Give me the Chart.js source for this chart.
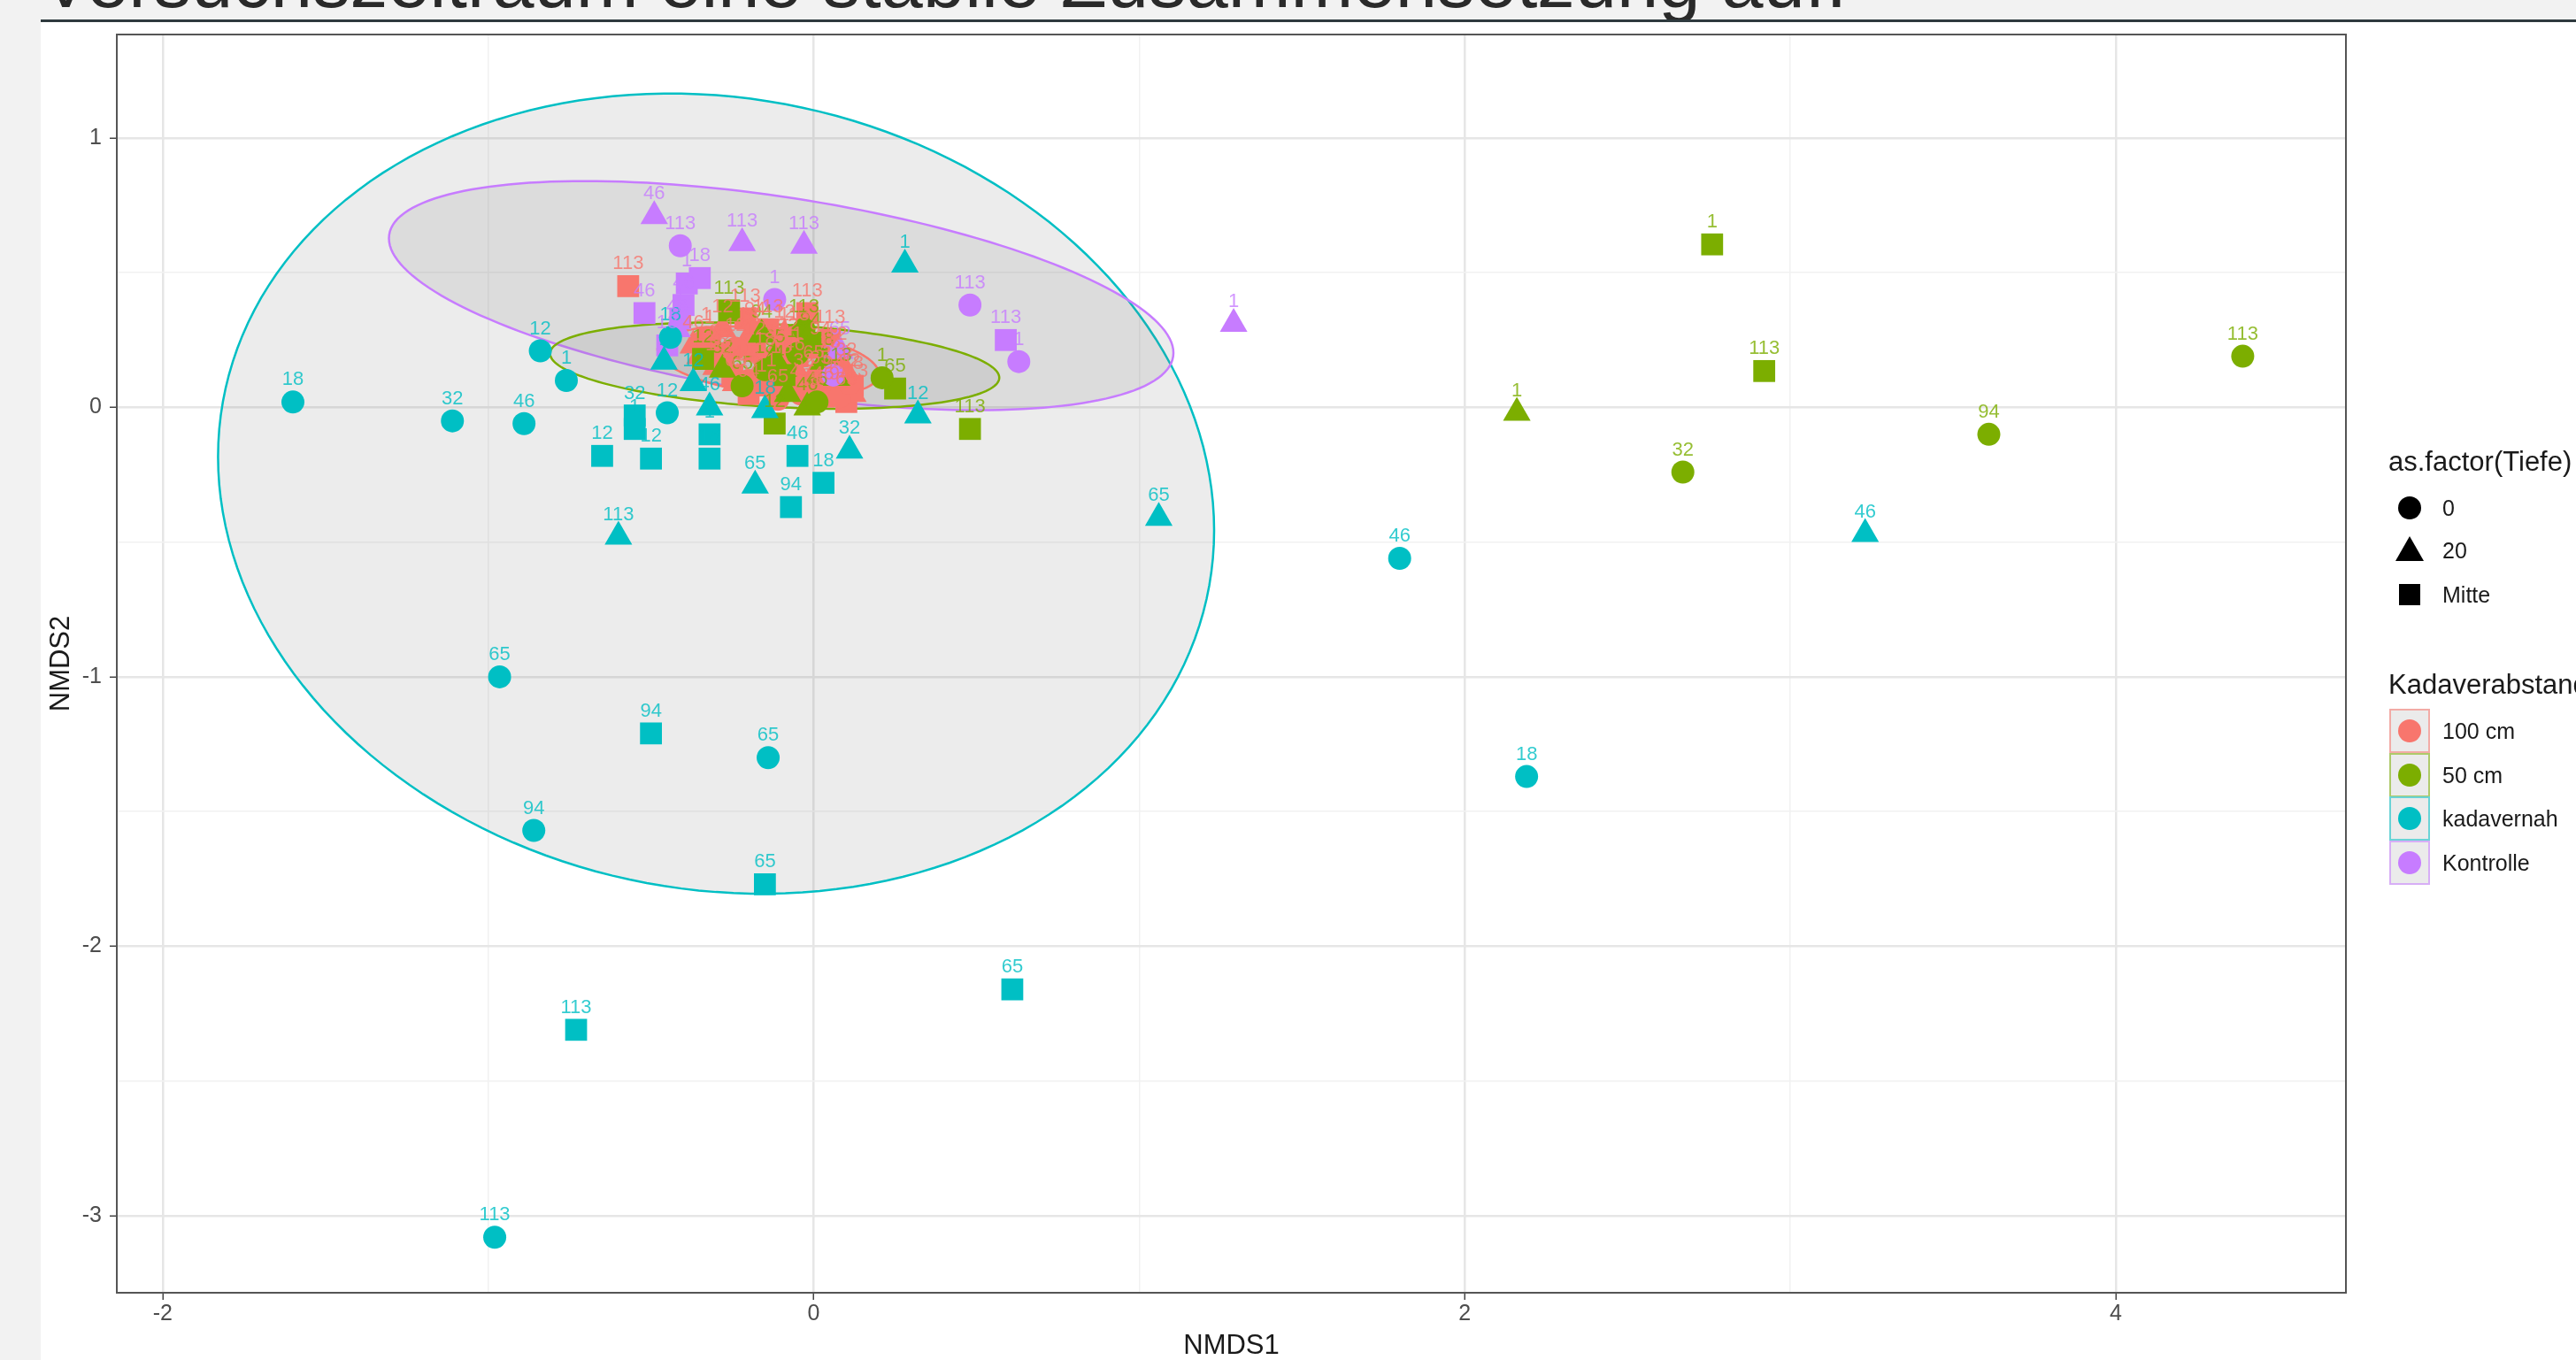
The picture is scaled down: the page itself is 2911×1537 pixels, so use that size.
<!DOCTYPE html>
<html>
<head>
<meta charset="utf-8">
<script src="https://cdn.jsdelivr.net/npm/chart.js@4.4.1/dist/chart.umd.min.js"></script>
<style>
  body { margin: 0; width: 2911px; height: 1537px; overflow: hidden; position: relative; background: #f2f2f2; font-family: "Liberation Sans", Arial, sans-serif; }
  #headline { position: absolute; left: 46px; top: -63px; font-size: 85px; line-height: 84px; color: #2a2a2a; white-space: nowrap; }
  #rule { position: absolute; left: 46px; top: 22px; right: 0; height: 3px; background: #2e3a3e; }
  #sheet { position: absolute; left: 46px; top: 25px; width: 2865px; height: 1512px; background: #fff; }
  #nmds { display: block; position: absolute; left: 0; top: -4px; }
  .lg { position: absolute; white-space: nowrap; color: #1a1a1a; }
  .lg-title { font-size: 31px; height: 36px; line-height: 36px; }
  .lg-text { font-size: 25px; height: 30px; line-height: 30px; }
  .mk { position: absolute; }
</style>
</head>
<body>
<div id="headline">Versuchszeitraum eine stabile Zusammensetzung auf.</div>
<div id="rule"></div>
<div id="sheet"><canvas id="nmds" width="2865" height="1516"></canvas></div>
<div id="legend"></div>

<script>
// Gruppen und Tiefen
const groups = ['100 cm', '50 cm', 'kadavernah', 'Kontrolle'];
const depths = ['0', '20', 'Mitte'];
const groupColors = ['#F8766D', '#7CAE00', '#00BFC4', '#C77CFF'];

// NMDS scores [NMDS1, NMDS2, Probe]
const cm100_0 = [[-0.33, 0.26, '1'], [-0.24, 0.22, '12'], [-0.15, 0.17, '18'], [-0.08, 0.22, '32'], [-0.04, 0.05, '46'],
                 [0.02, 0.10, '65'], [0.08, 0.04, '94'], [0.11, 0.09, '12'], [-0.20, 0.10, '46'], [-0.11, 0.03, '65'],
                 [-0.28, 0.18, '32'], [-0.18, 0.28, '94'], [-0.06, 0.26, '113'], [0.05, 0.16, '18'], [-0.13, 0.09, '1']];
const cm100_20 = [[-0.35, 0.19, '1'], [-0.28, 0.29, '12'], [-0.20, 0.26, '18'], [-0.12, 0.20, '32'], [-0.06, 0.15, '46'],
                  [0.00, 0.12, '65'], [0.06, 0.08, '94'], [0.12, 0.05, '113'], [-0.16, 0.07, '1'], [-0.30, 0.15, '18'],
                  [-0.24, 0.09, '65'], [-0.09, 0.27, '12'], [0.02, 0.21, '94'], [0.10, 0.13, '32'], [-0.01, 0.02, '18'],
                  [-0.37, 0.23, '46']];
const cm100_mitte = [[-0.57, 0.45, '113'], [-0.02, 0.35, '113'], [-0.21, 0.33, '113'], [0.05, 0.25, '113'], [-0.32, 0.25, '1'],
                     [-0.18, 0.21, '12'], [-0.10, 0.14, '18'], [-0.03, 0.09, '32'], [0.03, 0.04, '46'], [0.10, 0.02, '65'],
                     [-0.25, 0.12, '94'], [-0.14, 0.29, '113'], [-0.05, 0.19, '1'], [0.07, 0.19, '12'], [-0.29, 0.20, '65'],
                     [-0.20, 0.05, '94'], [0.12, 0.08, '18']];

const cm50_0 = [[4.39, 0.19, '113'], [3.61, -0.10, '94'], [2.67, -0.24, '32'], [0.21, 0.11, '1'], [-0.03, 0.29, '113'],
                [-0.05, 0.20, '12'], [-0.15, 0.14, '18'], [0.01, 0.02, '46'], [-0.22, 0.08, '65']];
const cm50_20 = [[2.16, -0.02, '1'], [-0.16, 0.27, '94'], [-0.08, 0.05, '12'], [0.03, 0.17, '18'], [-0.28, 0.14, '32'],
                 [-0.02, 0.00, '46'], [-0.12, 0.18, '65'], [0.07, 0.11, '113']];
const cm50_mitte = [[2.76, 0.605, '1'], [2.92, 0.135, '113'], [0.48, -0.08, '113'], [0.25, 0.07, '65'], [-0.26, 0.36, '113'],
                    [-0.12, -0.06, '12'], [-0.34, 0.18, '12'], [-0.01, 0.24, '94'], [-0.09, 0.12, '46']];

const nah_0 = [[-1.60, 0.02, '18'], [-1.11, -0.05, '32'], [-0.89, -0.06, '46'], [-0.84, 0.21, '12'], [-0.76, 0.10, '1'],
               [-0.45, -0.02, '12'], [1.80, -0.56, '46'], [2.19, -1.37, '18'], [-0.965, -1.00, '65'], [-0.14, -1.30, '65'],
               [-0.86, -1.57, '94'], [-0.98, -3.08, '113'], [-0.44, 0.26, '18']];
const nah_20 = [[0.28, 0.53, '1'], [-0.60, -0.48, '113'], [-0.18, -0.29, '65'], [0.11, -0.16, '32'], [0.32, -0.03, '12'],
                [1.06, -0.41, '65'], [3.23, -0.47, '46'], [-0.46, 0.17, '1'], [-0.32, 0.00, '46'], [-0.15, -0.01, '18'],
                [-0.37, 0.09, '12']];
const nah_mitte = [[-0.65, -0.18, '12'], [-0.50, -0.19, '12'], [-0.55, -0.03, '32'], [-0.55, -0.08, '1'], [-0.32, -0.10, '1'],
                   [-0.32, -0.19, '18'], [-0.05, -0.18, '46'], [0.03, -0.28, '18'], [-0.07, -0.37, '94'], [-0.50, -1.21, '94'],
                   [-0.15, -1.77, '65'], [0.61, -2.16, '65'], [-0.73, -2.31, '113']];

const kon_0 = [[-0.41, 0.60, '113'], [-0.12, 0.40, '1'], [0.48, 0.38, '113'], [0.63, 0.17, '1'], [0.06, 0.12, '21']];
const kon_20 = [[-0.49, 0.71, '46'], [-0.22, 0.61, '113'], [-0.03, 0.60, '113'], [1.29, 0.31, '1'], [-0.42, 0.29, '46'], [0.08, 0.21, '65']];
const kon_mitte = [[0.59, 0.25, '113'], [-0.52, 0.35, '46'], [-0.35, 0.48, '18'], [-0.39, 0.46, '1'], [-0.40, 0.38, '46'],
                   [-0.41, 0.33, '1'], [-0.45, 0.23, '18']];

// Ellipsen je Gruppe (Mitte, halbe Breite/Hoehe, Korrelation)
const ellCx = [-0.14, -0.12, -0.30, -0.10];
const ellCy = [0.17, 0.155, -0.32, 0.415];
const ellSx = [0.34, 0.69, 1.53, 1.205];
const ellSy = [0.13, 0.16, 1.485, 0.425];
const ellR = [-0.35, -0.28, -0.092, -0.50];

const shapeStyle = { '0': ['circle', 13], '20': ['triangle', 18], 'Mitte': ['rect', 17.5] };

function alpha(hex, a) {
    const n = parseInt(hex.slice(1), 16);
    return `rgba(${n >> 16}, ${(n >> 8) & 255}, ${n & 255}, ${a})`;
}

function makeSet(rows, g, d) {
    const [style, r] = shapeStyle[d];
    return {
        label: groups[g] + ' / ' + d,
        data: rows.map(p => ({ x: p[0], y: p[1], probe: p[2] })),
        pointStyle: style,
        pointRadius: r,
        pointHoverRadius: r,
        backgroundColor: groupColors[g],
        borderWidth: 0,
        groupIndex: g
    };
}

// Reihenfolge wie gezeichnet
const datasets = [
    makeSet(nah_0, 2, '0'), makeSet(nah_20, 2, '20'), makeSet(nah_mitte, 2, 'Mitte'),
    makeSet(kon_0, 3, '0'), makeSet(kon_20, 3, '20'), makeSet(kon_mitte, 3, 'Mitte'),
    makeSet(cm50_0, 1, '0'), makeSet(cm50_20, 1, '20'), makeSet(cm50_mitte, 1, 'Mitte'),
    makeSet(cm100_0, 0, '0'), makeSet(cm100_20, 0, '20'), makeSet(cm100_mitte, 0, 'Mitte')
];

const isWhole = v => Math.abs(v - Math.round(v)) < 1e-9;

const ellipsePlugin = {
    id: 'ellipses',
    beforeDatasetsDraw(chart) {
        const { ctx, chartArea: a, scales: { x, y } } = chart;
        ctx.save();
        ctx.beginPath();
        ctx.rect(a.left, a.top, a.right - a.left, a.bottom - a.top);
        ctx.clip();
        // Reihenfolge: kadavernah, Kontrolle, 50 cm, 100 cm
        [2, 3, 1, 0].forEach(g => {
            const q = Math.sqrt(1 - ellR[g] * ellR[g]);
            ctx.beginPath();
            for (let i = 0; i <= 180; i++) {
                const t = i / 180 * Math.PI * 2;
                const dx = ellCx[g] + ellSx[g] * Math.cos(t);
                const dy = ellCy[g] + ellSy[g] * (ellR[g] * Math.cos(t) + q * Math.sin(t));
                const px = x.getPixelForValue(dx), py = y.getPixelForValue(dy);
                if (i === 0) ctx.moveTo(px, py); else ctx.lineTo(px, py);
            }
            ctx.closePath();
            ctx.fillStyle = 'rgba(120, 120, 120, 0.14)';
            ctx.fill();
            ctx.lineWidth = 2.5;
            ctx.strokeStyle = groupColors[g];
            ctx.stroke();
        });
        ctx.restore();
    }
};

const labelPlugin = {
    id: 'probeLabels',
    afterDatasetsDraw(chart) {
        const { ctx, chartArea: a } = chart;
        ctx.save();
        ctx.beginPath();
        ctx.rect(a.left, a.top, a.right - a.left, a.bottom - a.top);
        ctx.clip();
        ctx.font = '22px "Liberation Sans", Arial, sans-serif';
        ctx.textAlign = 'center';
        ctx.textBaseline = 'middle';
        chart.data.datasets.forEach((ds, i) => {
            const meta = chart.getDatasetMeta(i);
            ctx.fillStyle = alpha(groupColors[ds.groupIndex], 0.8);
            meta.data.forEach((el, j) => {
                ctx.fillText(ds.data[j].probe, el.x, el.y - 25);
            });
        });
        ctx.restore();
    },
    afterDraw(chart) {
        const { ctx, chartArea: a } = chart;
        ctx.save();
        ctx.strokeStyle = '#555';
        ctx.lineWidth = 2;
        ctx.strokeRect(a.left, a.top, a.right - a.left, a.bottom - a.top);
        ctx.restore();
    }
};

new Chart(document.getElementById('nmds'), {
    type: 'scatter',
    data: { datasets: datasets },
    options: {
        responsive: false,
        animation: false,
        events: [],
        layout: { padding: { top: 10, right: 260, left: 0, bottom: 0 } },
        plugins: { legend: { display: false }, tooltip: { enabled: false } },
        scales: {
            x: {
                type: 'linear',
                min: -2.141,
                max: 4.707,
                afterFit: s => { s.height = 76; s.paddingLeft = 0; s.paddingRight = 0; },
                border: { display: false },
                grid: {
                    color: c => (c.tick && c.tick.value % 2 === 0) ? '#e6e6e6' : '#f1f1f1',
                    lineWidth: c => (c.tick && c.tick.value % 2 === 0) ? 2.5 : 1.5,
                    tickColor: c => (c.tick && c.tick.value % 2 === 0) ? '#444' : 'rgba(0,0,0,0)',
                    tickLength: 8,
                    tickWidth: 1.5
                },
                ticks: {
                    stepSize: 1,
                    includeBounds: false,
                    autoSkip: false,
                    maxRotation: 0,
                    padding: 4,
                    color: '#4d4d4d',
                    font: { family: '"Liberation Sans", Arial, sans-serif', size: 25, lineHeight: 1 },
                    callback: v => (v % 2 === 0) ? String(v) : ''
                },
                title: {
                    display: true,
                    text: 'NMDS1',
                    color: '#1a1a1a',
                    padding: { top: 0, bottom: 0 },
                    font: { family: '"Liberation Sans", Arial, sans-serif', size: 31, lineHeight: 1 }
                }
            },
            y: {
                type: 'linear',
                min: -3.286,
                max: 1.384,
                afterFit: s => { s.width = 86; s.paddingTop = 0; s.paddingBottom = 0; },
                border: { display: false },
                grid: {
                    color: c => (c.tick && isWhole(c.tick.value)) ? '#e6e6e6' : '#f1f1f1',
                    lineWidth: c => (c.tick && isWhole(c.tick.value)) ? 2.5 : 1.5,
                    tickColor: c => (c.tick && isWhole(c.tick.value)) ? '#444' : 'rgba(0,0,0,0)',
                    tickLength: 8,
                    tickWidth: 1.5
                },
                ticks: {
                    stepSize: 0.5,
                    includeBounds: false,
                    autoSkip: false,
                    padding: 9,
                    color: '#4d4d4d',
                    font: { family: '"Liberation Sans", Arial, sans-serif', size: 25, lineHeight: 1 },
                    callback: v => isWhole(v) ? String(Math.round(v)) : ''
                },
                title: {
                    display: true,
                    text: 'NMDS2',
                    color: '#1a1a1a',
                    padding: { top: 5, bottom: 0 },
                    font: { family: '"Liberation Sans", Arial, sans-serif', size: 31, lineHeight: 1.2 }
                }
            }
        }
    },
    plugins: [ellipsePlugin, labelPlugin]
});

// Legende (Seitenkoordinaten)
const legend = document.getElementById('legend');
function addDiv(cls, text, left, cy, h) {
    const d = document.createElement('div');
    d.className = 'lg ' + cls;
    d.textContent = text;
    d.style.left = left + 'px';
    d.style.top = (cy - h / 2) + 'px';
    legend.appendChild(d);
}
function addMark(css) {
    const m = document.createElement('div');
    m.className = 'mk';
    m.style.cssText += css;
    legend.appendChild(m);
}

const shapeRows = [574, 622, 672];
const colorRows = [826, 876, 925, 975];
const keyX = 2723;

addDiv('lg-title', 'as.factor(Tiefe)', 2699, 522, 36);
depths.forEach((d, i) => {
    const cy = shapeRows[i];
    if (d === '0') addMark(`left:${keyX - 13}px;top:${cy - 13}px;width:26px;height:26px;border-radius:50%;background:#000;`);
    if (d === '20') addMark(`left:${keyX - 16}px;top:${cy - 16}px;width:32px;height:28px;background:#000;clip-path:polygon(50% 0,100% 100%,0 100%);`);
    if (d === 'Mitte') addMark(`left:${keyX - 12}px;top:${cy - 12}px;width:24px;height:24px;background:#000;`);
    addDiv('lg-text', d, 2760, cy, 30);
});

addDiv('lg-title', 'Kadaverabstand', 2699, 774, 36);
groups.forEach((g, i) => {
    const cy = colorRows[i];
    addMark(`left:${keyX - 23}px;top:${cy - 25}px;width:42px;height:46px;border:2px solid ${alpha(groupColors[i], 0.55)};background:#ebebeb;`);
    addMark(`left:${keyX - 13}px;top:${cy - 13}px;width:26px;height:26px;border-radius:50%;background:${groupColors[i]};`);
    addDiv('lg-text', g, 2760, cy, 30);
});
</script>
</body>
</html>
